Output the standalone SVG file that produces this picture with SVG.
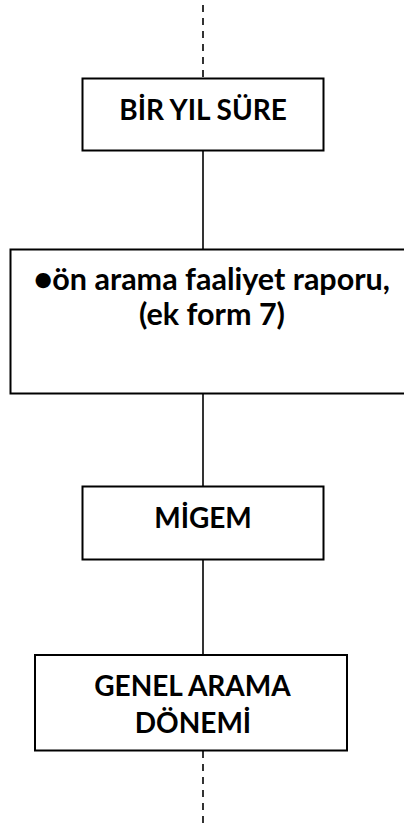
<svg xmlns="http://www.w3.org/2000/svg" width="404" height="827" viewBox="0 0 404 827">
<style>
.box{fill:#fff;stroke:#000;stroke-width:2}
.ln{stroke:#000;stroke-width:1.6;fill:none}
.dash{stroke:#000;stroke-width:1.6;fill:none;stroke-dasharray:7 6}
.t{font-family:Lato,"Open Sans","Liberation Sans",sans-serif;font-weight:bold;font-size:28px;fill:#000;text-anchor:middle}
.big{font-size:30.5px}
</style>
<rect width="404" height="827" fill="#fff"/>
<g id="connectors">
<line class="dash" x1="203" y1="5" x2="203" y2="78"/>
<line class="ln" x1="203" y1="151" x2="203" y2="249"/>
<line class="ln" x1="203" y1="394" x2="203" y2="487"/>
<line class="ln" x1="203" y1="559" x2="203" y2="655"/>
<line class="dash" x1="203" y1="751" x2="203" y2="823"/>
</g>
<g id="node1">
<rect class="box" x="82.5" y="78.5" width="241" height="72"/>
<text class="t" x="203" y="120">BİR YIL SÜRE</text>
</g>
<g id="node2">
<rect class="box" x="10.5" y="249.5" width="396" height="144"/>
<text class="t big" x="212" y="290">●ön arama faaliyet raporu,</text>
<text class="t big" x="212" y="325">(ek form 7)</text>
</g>
<g id="node3">
<rect class="box" x="82.5" y="486.5" width="241" height="73"/>
<text class="t" x="203" y="528">MİGEM</text>
</g>
<g id="node4">
<rect class="box" x="35" y="655" width="312" height="95.5"/>
<text class="t" x="192.5" y="696">GENEL ARAMA</text>
<text class="t" x="193" y="733">DÖNEMİ</text>
</g>
</svg>
